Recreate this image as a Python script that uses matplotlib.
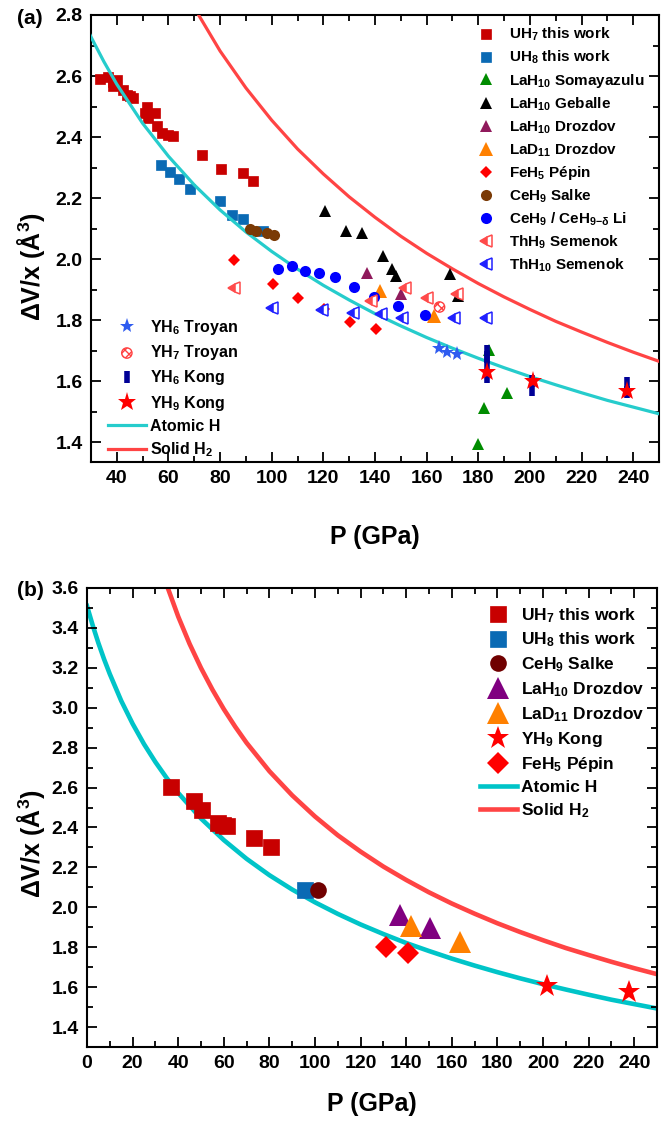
import matplotlib
matplotlib.use('Agg')
import matplotlib.pyplot as plt
from matplotlib.ticker import MultipleLocator, FormatStrFormatter

plt.rcParams['font.family'] = ['Liberation Sans', 'DejaVu Sans']
plt.rcParams['font.weight'] = 'bold'
plt.rcParams['mathtext.fontset'] = 'custom'
plt.rcParams['mathtext.rm'] = 'Liberation Sans:bold'
plt.rcParams['mathtext.it'] = 'Liberation Sans:bold'
plt.rcParams['mathtext.bf'] = 'Liberation Sans:bold'
plt.rcParams['mathtext.default'] = 'rm'

# ---------------- reference curves ----------------
atomic_P = [0, 2.5, 5, 7.5, 10, 15, 20, 25, 30, 35, 40, 50, 60, 70, 80, 90, 100,
            110, 120, 130, 140, 150, 160, 170, 180, 190, 200, 210, 220, 230, 240, 250]
atomic_V = [3.510, 3.413, 3.324, 3.243, 3.169, 3.035, 2.920, 2.818, 2.728, 2.647, 2.573,
            2.445, 2.337, 2.243, 2.161, 2.089, 2.025, 1.967, 1.914, 1.866, 1.821, 1.781,
            1.743, 1.708, 1.675, 1.644, 1.615, 1.588, 1.562, 1.537, 1.515, 1.493]
solid_P = [34, 35, 40, 45, 50, 55, 60, 65, 70, 80, 90, 100, 110, 120, 130, 140, 150,
           160, 170, 180, 190, 200, 210, 220, 230, 240, 250]
solid_V = [3.648, 3.614, 3.457, 3.320, 3.199, 3.091, 2.993, 2.905, 2.824, 2.682, 2.561,
           2.455, 2.361, 2.279, 2.204, 2.137, 2.075, 2.019, 1.968, 1.920, 1.876, 1.835,
           1.796, 1.761, 1.727, 1.695, 1.665]

# ---------------- panel (a) data ----------------
uh7_P_a = [33.4, 36.6, 38.6, 39.9, 38.6, 42.4, 43.8, 45.0, 46.3, 51.5, 50.9, 54.8, 52.2,
           55.4, 57.4, 59.9, 61.9, 72.9, 80.4, 88.8, 92.7]
uh7_V_a = [2.590, 2.598, 2.582, 2.587, 2.566, 2.555, 2.538, 2.533, 2.527, 2.500, 2.478,
           2.478, 2.462, 2.435, 2.413, 2.407, 2.402, 2.342, 2.296, 2.282, 2.257]
uh8_P_a = [57.1, 60.7, 64.2, 68.3, 80.0, 84.5, 88.8, 96.6]
uh8_V_a = [2.307, 2.287, 2.262, 2.230, 2.192, 2.146, 2.132, 2.091]
lah10_som_P = [184.2, 191.1, 182.3, 179.9]
lah10_som_V = [1.702, 1.562, 1.513, 1.393]
lah10_geb_P = [120.8, 128.9, 135.0, 143.0, 146.7, 148.0, 169.0, 172.2]
lah10_geb_V = [2.157, 2.091, 2.084, 2.009, 1.968, 1.944, 1.950, 1.879]
lah10_dro_P_a = [137.0, 149.9]
lah10_dro_V_a = [1.953, 1.884]
lad11_P_a = [142.1, 162.8]
lad11_V_a = [1.895, 1.815]
feh5_P_a = [85.2, 100.3, 110.2, 120.1, 130.5, 140.2]
feh5_V_a = [1.996, 1.917, 1.873, 1.835, 1.793, 1.770]
ceh9_salke_P_a = [91.5, 94.0, 98.0, 101.0]
ceh9_salke_V_a = [2.100, 2.092, 2.084, 2.078]
ceh9_li_P = [102.6, 107.8, 113.0, 118.2, 124.7, 132.0, 139.8, 149.0, 159.3]
ceh9_li_V = [1.966, 1.977, 1.960, 1.953, 1.941, 1.909, 1.876, 1.846, 1.816]
thh9_P = [85.2, 138.3, 151.8, 160.3, 171.9]
thh9_V = [1.906, 1.862, 1.906, 1.873, 1.884]
thh10_P = [100.1, 119.5, 131.5, 142.5, 150.6, 170.6, 182.9]
thh10_V = [1.840, 1.833, 1.824, 1.819, 1.808, 1.808, 1.808]
yh6_troyan_P = [164.8, 168.0, 171.9]
yh6_troyan_V = [1.710, 1.695, 1.690]
yh7_troyan_P = [165.0]
yh7_troyan_V = [1.843]
yh6_kong_P = [183.3, 183.3, 183.3, 183.3, 201.0, 201.0, 237.5, 237.5]
yh6_kong_V = [1.700, 1.680, 1.660, 1.615, 1.600, 1.570, 1.595, 1.565]
yh9_kong_P_a = [183.3, 201.2, 237.5]
yh9_kong_V_a = [1.631, 1.600, 1.568]

# ---------------- panel (b) data ----------------
uh7_P_b = [36.9, 47.1, 50.5, 57.4, 59.5, 61.5, 73.3, 80.6]
uh7_V_b = [2.603, 2.532, 2.487, 2.420, 2.412, 2.407, 2.348, 2.303]
uh8_P_b = [95.6]
uh8_V_b = [2.087]
ceh9_salke_P_b = [101.2]
ceh9_salke_V_b = [2.087]
lah10_dro_P_b = [137.4, 150.4]
lah10_dro_V_b = [1.960, 1.895]
lad11_P_b = [142.3, 163.6]
lad11_V_b = [1.905, 1.825]
yh9_kong_P_b = [201.8, 237.7]
yh9_kong_V_b = [1.605, 1.578]
feh5_P_b = [131.0, 140.8]
feh5_V_b = [1.803, 1.773]

# ---------------- styles ----------------
C_UH7 = '#c80000'
C_UH8 = '#0a6ab4'
C_ATOM = '#26cccc'
C_SOLID = '#ff4444'

W, H = 669, 1123
fig = plt.figure(figsize=(W / 100, H / 100), dpi=100)


def rect(l, t, r, b):
    return [l / W, 1 - b / H, (r - l) / W, (b - t) / H]


def fpos(x, y):
    return (x / W, 1 - y / H)


ax1 = fig.add_axes(rect(91, 15, 659, 462))
ax2 = fig.add_axes(rect(87, 588, 657, 1047))

# ================= panel (a) =================
la_atom, = ax1.plot(atomic_P, atomic_V, '-', color=C_ATOM, lw=2.3, zorder=3)
la_solid, = ax1.plot(solid_P, solid_V, '-', color=C_SOLID, lw=2.3, zorder=3)

h_uh7, = ax1.plot(uh7_P_a, uh7_V_a, 's', color=C_UH7, ms=7, mew=0.5, zorder=2)
h_uh8, = ax1.plot(uh8_P_a, uh8_V_a, 's', color=C_UH8, ms=7, mew=0.5, zorder=2)
h_som, = ax1.plot(lah10_som_P, lah10_som_V, '^', color='#008c00', ms=9, mew=0, zorder=4)
h_geb, = ax1.plot(lah10_geb_P, lah10_geb_V, '^', color='black', ms=9, mew=0, zorder=4)
h_dro, = ax1.plot(lah10_dro_P_a, lah10_dro_V_a, '^', color='#901a5c', ms=9, mew=0, zorder=4)
h_lad, = ax1.plot(lad11_P_a, lad11_V_a, '^', color='#ff8000', ms=10, mew=0, zorder=4)
h_feh, = ax1.plot(feh5_P_a, feh5_V_a, 'D', color='#ff0000', ms=6.5, mew=0, zorder=4)
h_sal, = ax1.plot(ceh9_salke_P_a, ceh9_salke_V_a, 'o', color='#7a3a06', ms=8, mew=0, zorder=4)
h_li, = ax1.plot(ceh9_li_P, ceh9_li_V, 'o', color='#0000ff', ms=8, mew=0, zorder=4)
h_th9, = ax1.plot(thh9_P, thh9_V, '<', color='#ff4a4a', ms=9, mew=1.1, fillstyle='left',
                  markerfacecoloralt='white', zorder=5)
h_th10, = ax1.plot(thh10_P, thh10_V, '<', color='#2020ff', ms=9, mew=1.1, fillstyle='left',
                   markerfacecoloralt='white', zorder=5)
h_yh6t, = ax1.plot(yh6_troyan_P, yh6_troyan_V, '*', color='#2f5cf0', ms=11, mew=0, zorder=5)
h_yh7t = ax1.scatter(yh7_troyan_P, yh7_troyan_V, marker='o', s=55, facecolor='white',
                     edgecolor='#ff4040', hatch='xxxx', linewidths=1.0, zorder=5)
h_yh6k, = ax1.plot(yh6_kong_P, yh6_kong_V, '|', color='#000096', ms=9, mew=4, zorder=5)
h_yh9k, = ax1.plot(yh9_kong_P_a, yh9_kong_V_a, '*', color='#ff0000', ms=14, mew=0, zorder=6)

ax1.set_xlim(30, 250)
ax1.set_ylim(1.335, 2.8)
ax1.xaxis.set_major_locator(MultipleLocator(20))
ax1.xaxis.set_minor_locator(MultipleLocator(10))
ax1.set_xticks(list(range(40, 241, 20)))
ax1.yaxis.set_major_locator(MultipleLocator(0.2))
ax1.yaxis.set_minor_locator(MultipleLocator(0.1))
ax1.yaxis.set_major_formatter(FormatStrFormatter('%.1f'))

leg1 = ax1.legend(
    [h_uh7, h_uh8, h_som, h_geb, h_dro, h_lad, h_feh, h_sal, h_li, h_th9, h_th10],
    ['UH$_7$ this work', 'UH$_8$ this work', 'LaH$_{10}$ Somayazulu', 'LaH$_{10}$ Geballe',
     'LaH$_{10}$ Drozdov', 'LaD$_{11}$ Drozdov', 'FeH$_5$ Pépin', 'CeH$_9$ Salke',
     'CeH$_9$ / CeH$_{9\\mathrm{-}δ}$ Li', 'ThH$_9$ Semenok', 'ThH$_{10}$ Semenok'],
    loc='upper left', bbox_to_anchor=fpos(479, 26), bbox_transform=fig.transFigure,
    frameon=False, borderpad=0, borderaxespad=0, handlelength=0.95, handletextpad=1.0,
    labelspacing=0.36, prop={'size': 11, 'weight': 'bold'}, numpoints=1, scatterpoints=1)
ax1.add_artist(leg1)

leg2 = ax1.legend(
    [h_yh6t, h_yh7t, h_yh6k, h_yh9k, la_atom, la_solid],
    ['YH$_6$ Troyan', 'YH$_7$ Troyan', 'YH$_6$ Kong', 'YH$_9$ Kong', 'Atomic H', 'Solid H$_2$'],
    loc='upper left', bbox_to_anchor=fpos(108, 318), bbox_transform=fig.transFigure,
    frameon=False, borderpad=0, borderaxespad=0, handlelength=2.36, handletextpad=0.3,
    labelspacing=0.39, prop={'size': 11.5, 'weight': 'bold'}, numpoints=1, scatterpoints=1)

ax1.set_xlabel('P (GPa)', fontsize=18, fontweight='bold')
ax1.xaxis.set_label_coords(0.5, -0.142)
ax1.set_ylabel('ΔV/x (Å$^3$)', fontsize=18, fontweight='bold')
ax1.yaxis.set_label_coords(-0.0775, 0.436)
fig.text(*fpos(30, 19), '(a)', fontsize=15, fontweight='bold', ha='center', va='center')

# ================= panel (b) =================
lb_atom, = ax2.plot(atomic_P, atomic_V, '-', color='#00c4c8', lw=3.3, zorder=1)
lb_solid, = ax2.plot(solid_P, solid_V, '-', color=C_SOLID, lw=3.3, zorder=1)

g_uh7, = ax2.plot(uh7_P_b, uh7_V_b, 's', color=C_UH7, ms=12, mew=0.5, zorder=3)
g_uh8, = ax2.plot(uh8_P_b, uh8_V_b, 's', color=C_UH8, ms=12, mew=0.5, zorder=3)
g_sal, = ax2.plot(ceh9_salke_P_b, ceh9_salke_V_b, 'o', color='#700000', ms=12, mew=0, zorder=3)
g_dro, = ax2.plot(lah10_dro_P_b, lah10_dro_V_b, '^', color='#800080', ms=16, mew=0, zorder=3)
g_lad, = ax2.plot(lad11_P_b, lad11_V_b, '^', color='#ff8000', ms=16, mew=0, zorder=3)
g_yh9, = ax2.plot(yh9_kong_P_b, yh9_kong_V_b, '*', color='#ff0000', ms=17, mew=0, zorder=3)
g_feh, = ax2.plot(feh5_P_b, feh5_V_b, 'D', color='#ff0000', ms=11.5, mew=0, zorder=3)

ax2.set_xlim(0, 250)
ax2.set_ylim(1.3, 3.6)
ax2.xaxis.set_major_locator(MultipleLocator(20))
ax2.xaxis.set_minor_locator(MultipleLocator(10))
ax2.set_xticks(list(range(0, 241, 20)))
ax2.set_yticks([1.4 + 0.2 * i for i in range(12)])
ax2.yaxis.set_minor_locator(MultipleLocator(0.1))
ax2.yaxis.set_major_formatter(FormatStrFormatter('%.1f'))

ax2.legend(
    [g_uh7, g_uh8, g_sal, g_dro, g_lad, g_yh9, g_feh, lb_atom, lb_solid],
    ['UH$_7$ this work', 'UH$_8$ this work', 'CeH$_9$ Salke', 'LaH$_{10}$ Drozdov',
     'LaD$_{11}$ Drozdov', 'YH$_9$ Kong', 'FeH$_5$ Pépin', 'Atomic H', 'Solid H$_2$'],
    loc='upper left', bbox_to_anchor=fpos(480, 606), bbox_transform=fig.transFigure,
    frameon=False, borderpad=0, borderaxespad=0, handlelength=2.13, handletextpad=0.25,
    labelspacing=0.35, prop={'size': 12.5, 'weight': 'bold'}, numpoints=1)

ax2.set_xlabel('P (GPa)', fontsize=18, fontweight='bold')
ax2.xaxis.set_label_coords(0.5, -0.098)
ax2.set_ylabel('ΔV/x (Å$^3$)', fontsize=18, fontweight='bold')
ax2.yaxis.set_label_coords(-0.071, 0.444)
fig.text(*fpos(30, 591), '(b)', fontsize=15, fontweight='bold', ha='center', va='center')

for ax in (ax1, ax2):
    for s in ax.spines.values():
        s.set_linewidth(1.5)
    ax.tick_params(which='both', direction='in', top=True, right=True, width=1.3,
                   labelsize=14, pad=6)
    ax.tick_params(which='major', length=7)
    ax.tick_params(which='minor', length=4)
    for lab in ax.get_xticklabels() + ax.get_yticklabels():
        lab.set_fontweight('bold')

fig.savefig('out.png', dpi=100)
